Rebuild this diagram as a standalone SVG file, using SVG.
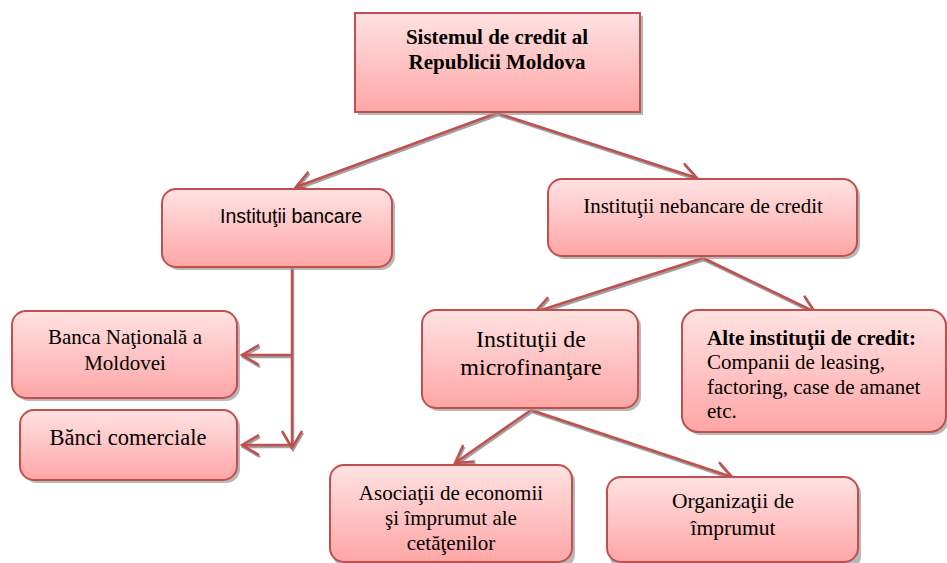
<svg xmlns="http://www.w3.org/2000/svg" width="947" height="563" viewBox="0 0 947 563">
<defs>
<linearGradient id="g" x1="0" y1="0" x2="0" y2="1">
<stop offset="0" stop-color="#ffe2e2"/>
<stop offset="1" stop-color="#ffa6a6"/>
</linearGradient>
<marker id="ah" viewBox="0 0 20 22" refX="18" refY="11" markerWidth="20" markerHeight="22" markerUnits="userSpaceOnUse" orient="auto">
<path d="M1,1 L18,11 L1,21" fill="none" stroke="#c0504d" stroke-width="2.5"/>
</marker>
<marker id="ahs" viewBox="0 0 20 22" refX="18" refY="11" markerWidth="20" markerHeight="22" markerUnits="userSpaceOnUse" orient="auto">
<path d="M1,1 L18,11 L1,21" fill="none" stroke="#8c8c8c" stroke-width="2.5"/>
</marker>
</defs>
<style>
.box{fill:url(#g);stroke:#c0504d;stroke-width:2}
.sh{fill:#9a9a9a;opacity:0.7}
.t{font-family:"Liberation Serif","Times New Roman",serif;fill:#000}
.s{font-family:"Liberation Sans",Arial,sans-serif;fill:#000}
.c{stroke:#c0504d;stroke-width:2.5;fill:none}
.cs{stroke:#8c8c8c;stroke-width:2.5;fill:none}
</style>
<rect width="947" height="563" fill="#fff"/>

<g id="connectors">
<g transform="translate(1,2)" opacity="0.8">
<path class="cs" d="M497,113 L296,187" marker-end="url(#ahs)"/>
<path class="cs" d="M497,113 L697,178" marker-end="url(#ahs)"/>
<path class="cs" d="M703,258 L535,312" marker-end="url(#ahs)"/>
<path class="cs" d="M703,258 L815,312" marker-end="url(#ahs)"/>
<path class="cs" d="M531,410 L455,463" marker-end="url(#ahs)"/>
<path class="cs" d="M531,410 L732,477" marker-end="url(#ahs)"/>
<path class="cs" d="M292,267 L292,448" marker-end="url(#ahs)"/>
<path class="cs" d="M292,355 L242,355" marker-end="url(#ahs)"/>
<path class="cs" d="M292,445 L242,445" marker-end="url(#ahs)"/>
</g>
<path class="c" d="M497,113 L296,187" marker-end="url(#ah)"/>
<path class="c" d="M497,113 L697,178" marker-end="url(#ah)"/>
<path class="c" d="M703,258 L535,312" marker-end="url(#ah)"/>
<path class="c" d="M703,258 L815,312" marker-end="url(#ah)"/>
<path class="c" d="M531,410 L455,463" marker-end="url(#ah)"/>
<path class="c" d="M531,410 L732,477" marker-end="url(#ah)"/>
<path class="c" d="M292,267 L292,448" marker-end="url(#ah)"/>
<path class="c" d="M292,355 L242,355" marker-end="url(#ah)"/>
<path class="c" d="M292,445 L242,445" marker-end="url(#ah)"/>
</g>

<g id="root">
<rect class="sh" x="358" y="16" width="285" height="99"/>
<rect class="box" x="355" y="13" width="285" height="99"/>
<text class="t" font-size="21" font-weight="bold" text-anchor="middle" x="497" y="44">Sistemul de credit al</text>
<text class="t" font-size="21" font-weight="bold" text-anchor="middle" x="497" y="69">Republicii Moldova</text>
</g>

<g id="bancare">
<rect class="sh" x="165" y="192" width="230" height="78" rx="14"/>
<rect class="box" x="162" y="189" width="230" height="78" rx="14"/>
<text class="s" font-size="19.5" text-anchor="middle" x="291" y="223">Instituţii bancare</text>
</g>

<g id="nebancare">
<rect class="sh" x="551" y="182" width="309" height="77" rx="14"/>
<rect class="box" x="548" y="179" width="309" height="77" rx="14"/>
<text class="t" font-size="21" text-anchor="middle" x="703" y="213">Instituţii nebancare de credit</text>
</g>

<g id="bnm">
<rect class="sh" x="15" y="314" width="225" height="87" rx="14"/>
<rect class="box" x="12" y="311" width="225" height="87" rx="14"/>
<text class="t" font-size="21" text-anchor="middle" x="125" y="344">Banca Naţională a</text>
<text class="t" font-size="21" text-anchor="middle" x="125" y="370">Moldovei</text>
</g>

<g id="comerciale">
<rect class="sh" x="23" y="413" width="217" height="70" rx="14"/>
<rect class="box" x="20" y="410" width="217" height="70" rx="14"/>
<text class="t" font-size="22.5" text-anchor="middle" x="128" y="445">Bănci comerciale</text>
</g>

<g id="microfinantare">
<rect class="sh" x="425" y="313" width="216" height="98" rx="14"/>
<rect class="box" x="422" y="310" width="216" height="98" rx="14"/>
<text class="t" font-size="24" text-anchor="middle" x="531" y="347">Instituţii de</text>
<text class="t" font-size="24" text-anchor="middle" x="531" y="375">microfinanţare</text>
</g>

<g id="alte">
<rect class="sh" x="685" y="313" width="264" height="122" rx="16"/>
<rect class="box" x="682" y="310" width="264" height="122" rx="16"/>
<text class="t" font-size="21" font-weight="bold" x="707" y="345">Alte instituţii de credit:</text>
<text class="t" font-size="21" x="707" y="369">Companii de leasing,</text>
<text class="t" font-size="21" x="707" y="394">factoring, case de amanet</text>
<text class="t" font-size="21" x="707" y="418">etc.</text>
</g>

<g id="asociatii">
<rect class="sh" x="333" y="468" width="242" height="100" rx="14"/>
<rect class="box" x="330" y="465" width="242" height="97" rx="14"/>
<text class="t" font-size="21" text-anchor="middle" x="451" y="500">Asociaţii de economii</text>
<text class="t" font-size="21" text-anchor="middle" x="451" y="525">şi împrumut ale</text>
<text class="t" font-size="21" text-anchor="middle" x="451" y="550">cetăţenilor</text>
</g>

<g id="organizatii">
<rect class="sh" x="610" y="480" width="251" height="90" rx="14"/>
<rect class="box" x="607" y="477" width="251" height="85" rx="14"/>
<text class="t" font-size="21.5" text-anchor="middle" x="733" y="508">Organizaţii de</text>
<text class="t" font-size="21.5" text-anchor="middle" x="733" y="535">împrumut</text>
</g>
</svg>
